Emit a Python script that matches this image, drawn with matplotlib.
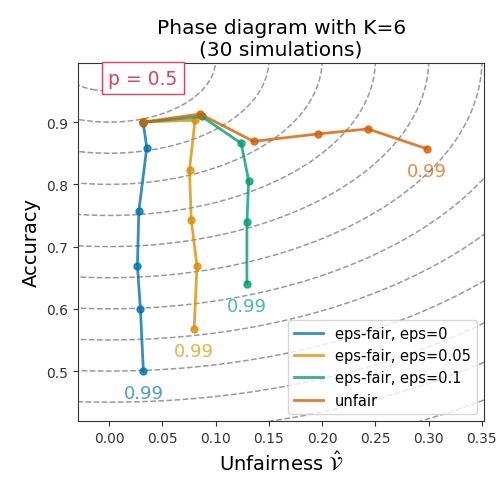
import matplotlib.pyplot as plt
import numpy as np

# series (unfairness, accuracy)
labels = ['eps-fair, eps=0', 'eps-fair, eps=0.05', 'eps-fair, eps=0.1', 'unfair']
colors = ['#0173b2', '#de8f05', '#029e73', '#d55e00']

unf_eps0 = [0.032, 0.0354, 0.0279, 0.0266, 0.0294, 0.0322]
acc_eps0 = [0.899, 0.859, 0.757, 0.669, 0.600, 0.500]

unf_eps005 = [0.032, 0.0806, 0.0755, 0.0771, 0.0825, 0.0799]
acc_eps005 = [0.900, 0.903, 0.823, 0.743, 0.669, 0.568]

unf_eps01 = [0.032, 0.087, 0.124, 0.131, 0.1294, 0.1294]
acc_eps01 = [0.900, 0.909, 0.866, 0.806, 0.739, 0.640]

unf_unfair = [0.032, 0.0855, 0.1356, 0.196, 0.243, 0.2985]
acc_unfair = [0.900, 0.913, 0.869, 0.881, 0.889, 0.857]

last_label = '0.99'
radii = [0.05, 0.10, 0.15, 0.20, 0.25, 0.30, 0.35, 0.40, 0.45, 0.50, 0.55, 0.60, 0.65]

fig = plt.figure(figsize=(4.98, 4.81), dpi=100)
ax = fig.add_axes([0.157, 0.123, 0.815, 0.744])

# distance-to-(0,1) contours
xx, yy = np.meshgrid(np.linspace(-0.05, 0.4, 400), np.linspace(0.35, 1.05, 400))
dist = np.sqrt(xx ** 2 + (1 - yy) ** 2)
ax.contour(xx, yy, dist, levels=radii, colors='#888888', linestyles='dashed',
           linewidths=1.1, alpha=0.85)

series = [(unf_eps0, acc_eps0), (unf_eps005, acc_eps005),
          (unf_eps01, acc_eps01), (unf_unfair, acc_unfair)]
for (xs, ys), lab, col in zip(series, labels, colors):
    ax.plot(xs, ys, '-', color=col, lw=2, alpha=0.8, label=lab)
    ax.plot(xs, ys, 'o', color=col, ms=5, alpha=0.8)
    ax.text(xs[-1], ys[-1] - 0.035, last_label, color=col, alpha=0.7,
            fontsize=13, ha='center', va='center')

ax.text(0.074, 0.958, 'p = 0.5', transform=ax.transAxes, fontsize=13.5,
        color='#d6455f', va='center', ha='left',
        bbox=dict(boxstyle='square,pad=0.35', fc='white', ec='#d6455f'))

ax.set_xlim(-0.029, 0.352)
ax.set_ylim(0.42, 0.995)
ax.set_xticks([0.0, 0.05, 0.10, 0.15, 0.20, 0.25, 0.30, 0.35])
ax.set_yticks([0.5, 0.6, 0.7, 0.8, 0.9])
ax.tick_params(labelsize=10, colors='#333333')
for s in ax.spines.values():
    s.set_color('#333333')

ax.set_xlabel(r'Unfairness $\hat{\mathcal{V}}$', fontsize=14)
ax.set_ylabel('Accuracy', fontsize=14)
ax.set_title('Phase diagram with K=6\n(30 simulations)', fontsize=14.5)
ax.legend(loc='lower right', fontsize=10.5)

fig.savefig('out.png', dpi=100)
